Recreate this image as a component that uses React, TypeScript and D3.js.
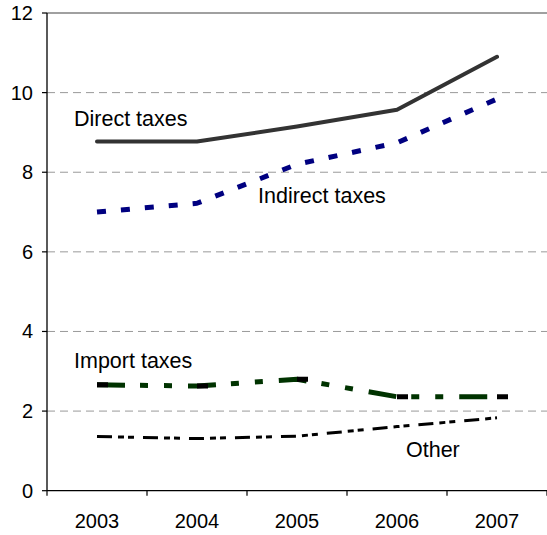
import React from "react";
import * as d3 from "d3";

// Tax revenue by type, 2003–2007
const years = ["2003", "2004", "2005", "2006", "2007"];
const directTaxes = [8.77, 8.77, 9.15, 9.57, 10.9];
const indirectTaxes = [7.0, 7.22, 8.2, 8.74, 9.84];
const importTaxes = [2.66, 2.63, 2.8, 2.36, 2.36];
const otherTaxes = [1.36, 1.31, 1.37, 1.61, 1.83];
const yTicks = [0, 2, 4, 6, 8, 10, 12];

const W = 547;
const H = 535;
const left = 47;
const right = 547;
const top = 13;
const bottom = 490.7;

const FONT = "'Liberation Sans', Arial, sans-serif";

export default function App() {
  const x = d3.scaleBand<string>().domain(years).range([left, right]);
  const cx = (d: string) => (x(d) ?? 0) + x.bandwidth() / 2;
  const y = d3.scaleLinear().domain([0, 12]).range([bottom, top]);

  const line = d3
    .line<number>()
    .x((_, i) => cx(years[i]))
    .y((v) => y(v));

  const series = [
    { name: "Direct taxes", values: directTaxes, color: "#333333", width: 4, dash: undefined as string | undefined, cap: "round" },
    { name: "Indirect taxes", values: indirectTaxes, color: "#000080", width: 5, dash: "9,15", cap: "butt" },
    { name: "Import taxes", values: importTaxes, color: "#003300", width: 5, dash: "28,15,8,16,8,16", cap: "butt" },
    { name: "Other", values: otherTaxes, color: "#000000", width: 3, dash: "15,6,6,4,6,9", cap: "butt" },
  ];

  const labels = [
    { text: "Direct taxes", x: 74, y: 126 },
    { text: "Indirect taxes", x: 258, y: 203 },
    { text: "Import taxes", x: 74, y: 368 },
    { text: "Other", x: 406, y: 457 },
  ];

  return (
    <div style={{ position: "fixed", left: 0, top: 0 }}>
      <svg width={W} height={H} style={{ display: "block", background: "#fff" }}>
        {/* horizontal gridlines */}
        {yTicks
          .filter((t) => t > 0 && t < 12)
          .map((t) => (
            <line
              key={t}
              x1={left}
              x2={right}
              y1={y(t)}
              y2={y(t)}
              stroke="#999"
              strokeWidth={1}
              strokeDasharray="8,5"
            />
          ))}
        {/* plot area top border */}
        <line x1={left} x2={right} y1={y(12)} y2={y(12)} stroke="#808080" strokeWidth={1.3} />

        {/* axes */}
        <line x1={left} x2={left} y1={top} y2={bottom} stroke="#000" strokeWidth={1.3} />
        <line x1={left} x2={right} y1={bottom} y2={bottom} stroke="#000" strokeWidth={1.3} />
        {yTicks.map((t) => (
          <g key={t}>
            <line x1={left - 5} x2={left} y1={y(t)} y2={y(t)} stroke="#000" strokeWidth={1.2} />
            <text
              x={33}
              y={y(t) + 7}
              textAnchor="end"
              fontFamily={FONT}
              fontSize={20}
              fill="#000"
            >
              {t}
            </text>
          </g>
        ))}
        {years.map((yr, i) => (
          <line
            key={"tk" + yr}
            x1={x(yr)}
            x2={x(yr)}
            y1={bottom}
            y2={bottom + 5}
            stroke="#000"
            strokeWidth={1.2}
          />
        ))}
        <line x1={right} x2={right} y1={bottom} y2={bottom + 5} stroke="#000" strokeWidth={1.2} />
        {years.map((yr) => (
          <text
            key={"xl" + yr}
            x={cx(yr)}
            y={528}
            textAnchor="middle"
            fontFamily={FONT}
            fontSize={20}
            fill="#000"
          >
            {yr}
          </text>
        ))}

        {/* series */}
        {series.map((s) => (
          <path
            key={s.name}
            d={line(s.values) ?? ""}
            fill="none"
            stroke={s.color}
            strokeWidth={s.width}
            strokeDasharray={s.dash}
            strokeLinecap={s.cap as any}
            strokeLinejoin="round"
          />
        ))}
        {/* dash markers on import taxes */}
        {importTaxes.map((v, i) => (
          <line
            key={"m" + i}
            x1={cx(years[i])}
            x2={cx(years[i]) + 11}
            y1={y(v)}
            y2={y(v)}
            stroke="#000"
            strokeWidth={5}
          />
        ))}

        {/* series labels */}
        {labels.map((l) => (
          <text key={l.text} x={l.x} y={l.y} fontFamily={FONT} fontSize={21.5} fill="#000">
            {l.text}
          </text>
        ))}
      </svg>
    </div>
  );
}
